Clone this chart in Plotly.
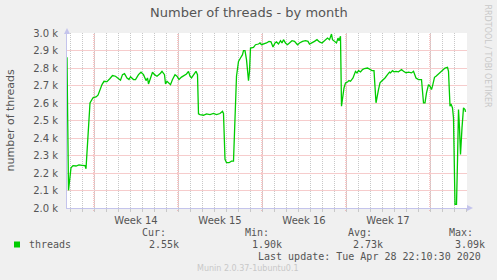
import plotly.graph_objects as go

# ---- data (hours since left edge of graph, number of threads) ----
hours = [0, 3, 8, 12, 18, 24, 30, 36, 38, 46, 52, 58, 62, 66, 70, 74, 80, 86, 91, 97,
         102, 107, 111, 115, 120, 124, 127, 133, 137, 143, 148, 153, 158, 161, 163, 167,
         171, 175, 180, 187, 190, 195, 197, 200, 203, 207, 211, 216, 220, 224, 229, 235,
         239, 243, 246, 249, 254, 258, 261, 263, 266, 273, 279, 286, 293, 299, 306, 311,
         313, 316, 319, 324, 329, 333, 339, 343, 347, 351, 353, 356, 359, 363, 365, 367,
         373, 377, 383, 386, 389, 395, 399, 404, 408, 412, 416, 419, 423, 427, 430, 433,
         437, 441, 445, 450, 455, 461, 465, 471, 477, 482, 485, 490, 495, 500, 505, 510,
         515, 521, 525, 529, 531, 535, 539, 542, 544, 547, 549, 554, 557, 561, 564, 567,
         572, 577, 580, 583, 587, 591, 595, 601, 605, 610, 614, 618, 623, 626, 629, 633,
         636, 641, 645, 647, 651, 654, 658, 663, 666, 669, 673, 678, 683, 689, 693, 698,
         703, 709, 713, 716, 719, 723, 726, 729, 731, 735, 738, 743, 747, 753, 756, 761,
         763, 766, 768, 771, 773, 776, 779, 781, 783, 785, 787, 790, 793, 796, 797]
threads = [2861, 2101, 2230, 2242, 2240, 2246, 2244, 2242, 2224, 2600, 2630, 2635, 2645, 2677, 2705, 2724, 2722, 2740, 2757, 2753,
           2740, 2730, 2762, 2768, 2743, 2734, 2750, 2734, 2734, 2762, 2776, 2762, 2728, 2743, 2709, 2743,
           2776, 2762, 2753, 2770, 2781, 2762, 2709, 2724, 2715, 2705, 2734, 2762, 2753, 2734, 2748, 2757,
           2766, 2781, 2753, 2743, 2766, 2781, 2762, 2538, 2534, 2530, 2538, 2534, 2540, 2534, 2540, 2553,
           2540, 2278, 2259, 2259, 2268, 2268, 2753, 2838, 2857, 2876, 2899, 2899, 2848, 2728, 2781, 2914,
           2918, 2933, 2937, 2943, 2933, 2937, 2943, 2952, 2950, 2920, 2943, 2949, 2937, 2956, 2943, 2962,
           2943, 2933, 2943, 2956, 2952, 2933, 2943, 2952, 2956, 2952, 2937, 2943, 2952, 2962, 2949, 2943,
           2956, 2971, 2962, 2994, 2962, 2952, 2943, 2971, 2956, 2981, 2582, 2686, 2715, 2720, 2728, 2724,
           2743, 2781, 2772, 2785, 2778, 2791, 2797, 2800, 2791, 2785, 2785, 2601, 2677, 2715, 2724, 2734,
           2743, 2762, 2776, 2772, 2785, 2778, 2781, 2778, 2785, 2791, 2781, 2772, 2776, 2772, 2781, 2743,
           2734, 2734, 2601, 2601, 2658, 2705, 2696, 2677, 2696, 2747, 2753, 2766, 2781, 2791, 2800, 2804,
           2781, 2582, 2595, 2572, 2515, 2021, 2021, 2268, 2563, 2458, 2306, 2458, 2572, 2563, 2549]

week_bounds = [54, 222, 390, 558, 726]
week_mids = [138, 306, 474, 642]
week_labels = ["Week 14", "Week 15", "Week 16", "Week 17"]
y_ticks = [2000, 2100, 2200, 2300, 2400, 2500, 2600, 2700, 2800, 2900, 3000]
y_labels = ["2.0 k", "2.1 k", "2.2 k", "2.3 k", "2.4 k", "2.5 k", "2.6 k", "2.7 k", "2.8 k", "2.9 k", "3.0 k"]
x_range = [0, 800]

series_name = "threads"
stats_labels = ["Cur:", "Min:", "Avg:", "Max:"]
stats_values = ["2.55k", "1.90k", "2.73k", "3.09k"]
title = "Number of threads - by month"
y_title = "number of threads"
last_update = "Last update: Tue Apr 28 22:10:30 2020"
footer = "Munin 2.0.37-1ubuntu0.1"
watermark = "RRDTOOL / TOBI OETIKER"

# ---- layout helpers ----
W, H = 497, 280
L, R, T, B = 67, 30, 33, 72
PW, PH = W - L - R, H - T - B


def xp(px):
    return (px - L) / PW


def yp(py):
    return (H - B - py) / PH


RED = "rgb(240,140,140)"
PINK = "#f6cccc"
GREY = "#c8c8c8"
AXIS = "#c4c4ec"
TXT = "#555555"
MONO = "DejaVu Sans Mono"
SANS = "DejaVu Sans"

fig = go.Figure()
fig.add_trace(go.Scatter(x=hours, y=threads, mode="lines",
                         line=dict(color="#00cc00", width=1.3),
                         hoverinfo="skip", showlegend=False))

fig.update_layout(
    width=W, height=H,
    margin=dict(l=L, r=R, t=T, b=B, pad=0),
    paper_bgcolor="#f0f0f0", plot_bgcolor="#ffffff",
    showlegend=False,
    xaxis=dict(range=x_range, tickvals=week_mids, ticktext=week_labels,
               showgrid=False, ticks="", ticklabelstandoff=3,
               tickfont=dict(family=SANS, size=10, color=TXT),
               minor=dict(tick0=6, dtick=24, showgrid=True, gridcolor=GREY,
                          griddash="1px,1px", ticks="outside", ticklen=3, tickcolor=GREY),
               showline=True, linecolor=AXIS, linewidth=1, zeroline=False, fixedrange=True),
    yaxis=dict(range=[2000, 3000], tickvals=y_ticks, ticktext=y_labels,
               showgrid=True, gridcolor=PINK, gridwidth=1, griddash="solid",
               ticks="", ticklabelstandoff=6,
               tickfont=dict(family=SANS, size=10, color=TXT),
               showline=True, linecolor=AXIS, linewidth=1, zeroline=False, fixedrange=True),
)

# week boundary (major) grid lines
for wb in week_bounds:
    fig.add_shape(type="line", xref="x", yref="paper", x0=wb, x1=wb, y0=yp(211), y1=1,
                  line=dict(color=RED, width=1, dash="1px,1px"), layer="below")

# axis arrows
fig.add_shape(type="path", xref="paper", yref="paper", line=dict(width=0), fillcolor=AXIS,
              path=f"M {xp(64)},{yp(34)} L {xp(70)},{yp(34)} L {xp(67)},{yp(28)} Z")
fig.add_shape(type="path", xref="paper", yref="paper", line=dict(width=0), fillcolor=AXIS,
              path=f"M {xp(467)},{yp(205)} L {xp(467)},{yp(211)} L {xp(473)},{yp(208)} Z")

# legend swatch
fig.add_shape(type="rect", xref="paper", yref="paper", line=dict(width=0), fillcolor="#00cc00",
              x0=xp(14), x1=xp(20), y0=yp(247.5), y1=yp(241.5))


def ann(text, px, py, size=10, family=MONO, color=TXT, xanchor="left", angle=0):
    fig.add_annotation(text=text, x=xp(px), y=yp(py), xref="paper", yref="paper",
                       showarrow=False, xanchor=xanchor, yanchor="middle",
                       font=dict(family=family, size=size, color=color), textangle=angle)


ann(title, 248.5, 13, size=13, family=SANS, color=TXT, xanchor="center")
ann(y_title, 10, 120.5, size=11, family=SANS, color=TXT, xanchor="center", angle=-90)
ann(watermark, 487.5, 56, size=8, family=SANS, color="#c8c8c8", xanchor="center", angle=90)

ann(series_name, 26.5, 244.5)
stat_label_x = [140, 243, 345.5, 446.5]
stat_value_x = [146.5, 250, 351, 452.5]
for lab, val, lx, vx in zip(stats_labels, stats_values, stat_label_x, stat_value_x):
    ann(lab, lx, 232)
    ann(val, vx, 244.5)
ann(last_update, 482.5, 256.5, xanchor="right")
ann(footer, 248, 268.5, size=8, family=SANS, color="#c8c8c8", xanchor="center")

fig.write_html("out.html")
